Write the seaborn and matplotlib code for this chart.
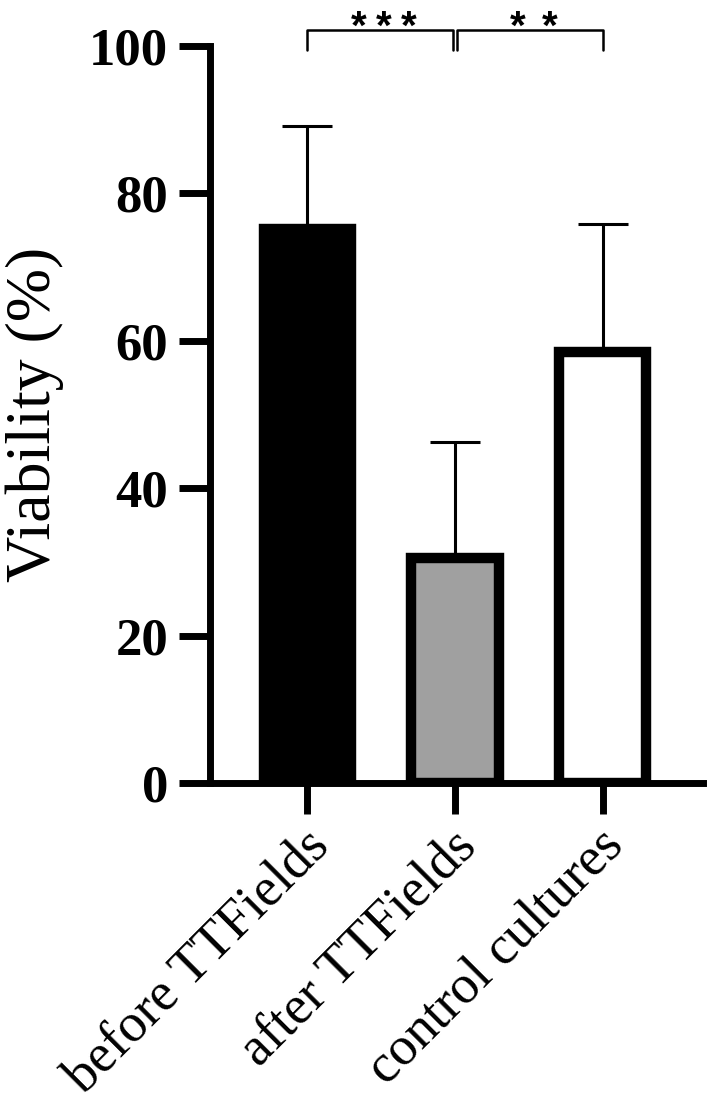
import numpy as np
import seaborn as sns
import matplotlib.pyplot as plt
from matplotlib.transforms import ScaledTranslation

groups = ['before TTFields', 'after TTFields', 'control cultures']
means = [75.2, 30.5, 58.5]
sd = [14.0, 15.8, 17.4]
colors = ['#000000', '#a0a0a0', '#ffffff']
n_stars = [3, 2]

sns.set_style('ticks')
plt.rcParams['font.family'] = ['Liberation Serif', 'DejaVu Serif']
for k in ['text.color', 'axes.labelcolor', 'xtick.color', 'ytick.color', 'axes.edgecolor']:
    plt.rcParams[k] = 'black'

fig = plt.figure(figsize=(7.08, 11.11), dpi=100)
ax = fig.add_axes([0.2966, 0.2952, 0.6964, 0.6634])

sns.barplot(x=groups, y=means, hue=groups, palette=colors, legend=False,
            edgecolor='black', linewidth=7.5, width=0.59, ax=ax, zorder=3)
x = np.arange(len(groups))
ax.errorbar(x, means, yerr=[np.zeros(len(sd)), sd], fmt='none', ecolor='black',
            elinewidth=2.2, capsize=18, capthick=2.2, zorder=2)

ax.set_ylim(0, 100)
ax.set_xlim(-0.66, 2.68)
ax.set_yticks([0, 20, 40, 60, 80, 100])
for s in ['top', 'right']:
    ax.spines[s].set_visible(False)
for s in ['left', 'bottom']:
    ax.spines[s].set_linewidth(5)
ax.tick_params(axis='both', length=22, width=5, color='black')
ax.tick_params(axis='y', pad=8)
ax.tick_params(axis='x', pad=6)

for lab in ax.get_yticklabels():
    lab.set_fontsize(38)
    lab.set_fontweight('bold')
ax.set_xticks(x)
ax.set_xticklabels(groups, rotation=45, ha='right', va='center',
                   rotation_mode='anchor', fontsize=39)
shift = ScaledTranslation(10 / 72, -12 / 72, fig.dpi_scale_trans)
for lab in ax.get_xticklabels():
    lab.set_transform(lab.get_transform() + shift)
ax.set_ylabel('Viability (%)', fontsize=46, labelpad=18)
ax.set_xlabel('')

# significance brackets
pairs = [(0.0, 0.985), (1.015, 2.0)]
for (a, b), n in zip(pairs, n_stars):
    ax.plot([a, a, b, b], [99.5, 102.2, 102.2, 99.5], color='black', lw=1.8,
            clip_on=False)
    step = 0.17 if n == 3 else 0.217
    mid = (a + b) / 2 + 0.025
    for i in range(n):
        ax.text(mid + (i - (n - 1) / 2) * step, 101.0, '*', ha='center', va='baseline',
                fontsize=29, fontweight='bold', family='Liberation Sans')

fig.savefig('out.png', dpi=100)
